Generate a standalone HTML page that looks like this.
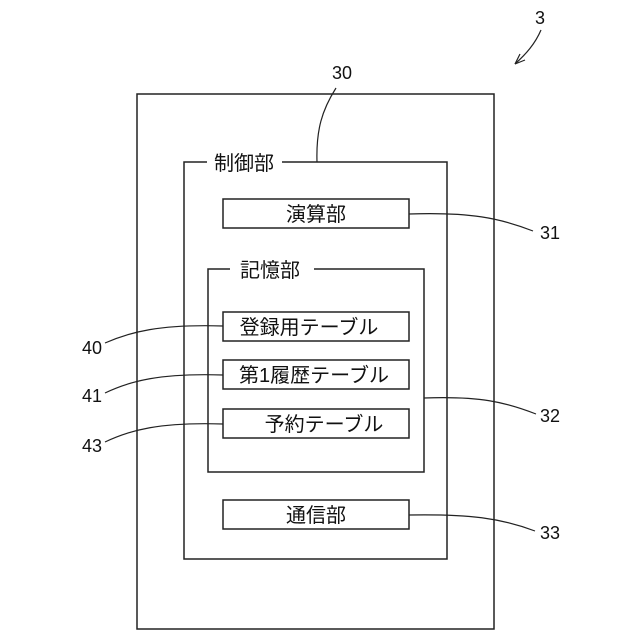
<!DOCTYPE html>
<html><head><meta charset="utf-8"><style>
html,body{margin:0;padding:0;background:#fff;}
svg{display:block;}
text{font-family:"Liberation Sans","Noto Sans CJK JP",sans-serif;fill:#111;}
</style></head><body>
<svg width="640" height="640" viewBox="0 0 640 640" xmlns="http://www.w3.org/2000/svg">
<g fill="none" stroke="#222" stroke-width="1.5">
<rect x="137" y="94" width="357" height="535"/>
<path d="M207 162 H184 V559 H447 V162 H282"/>
<rect x="223" y="199" width="186" height="29"/>
<path d="M230 269 H208 V472 H424 V269 H314"/>
<rect x="223" y="312" width="186" height="29"/>
<rect x="223" y="360" width="186" height="29"/>
<rect x="223" y="409" width="186" height="29"/>
<rect x="223" y="500" width="186" height="29"/>
<path d="M336 88 C322 110 316 130 317 162" stroke-width="1.2"/>
<path d="M409 214 C470 212 500 218 533 231" stroke-width="1.2"/>
<path d="M424 398 C480 396 505 402 536 414" stroke-width="1.2"/>
<path d="M409 515 C470 514 500 518 535 531" stroke-width="1.2"/>
<path d="M223 326 C160 324 130 332 105 343" stroke-width="1.2"/>
<path d="M223 375 C160 373 130 381 105 393" stroke-width="1.2"/>
<path d="M223 424 C160 422 130 430 105 442" stroke-width="1.2"/>
<path d="M541 30 C535 44 526 54 515 64" stroke-width="1.2"/>
<path d="M515 64 L520 54 M515 64 L525 60" stroke-width="1.2"/>
</g>
<g font-size="20">
<text x="244" y="170" text-anchor="middle">制御部</text>
<text x="316" y="221" text-anchor="middle">演算部</text>
<text x="270" y="277" text-anchor="middle">記憶部</text>
<text x="309" y="334" text-anchor="middle">登録用テーブル</text>
<text x="314" y="382" text-anchor="middle">第1履歴テーブル</text>
<text x="324" y="431" text-anchor="middle">予約テーブル</text>
<text x="316" y="522" text-anchor="middle">通信部</text>
</g>
<g font-size="18">
<text x="342" y="79" text-anchor="middle">30</text>
<text x="540" y="24" text-anchor="middle">3</text>
<text x="550" y="239" text-anchor="middle">31</text>
<text x="550" y="422" text-anchor="middle">32</text>
<text x="550" y="539" text-anchor="middle">33</text>
<text x="92" y="354" text-anchor="middle">40</text>
<text x="92" y="402" text-anchor="middle">41</text>
<text x="92" y="452" text-anchor="middle">43</text>
</g>
</svg>
</body></html>
